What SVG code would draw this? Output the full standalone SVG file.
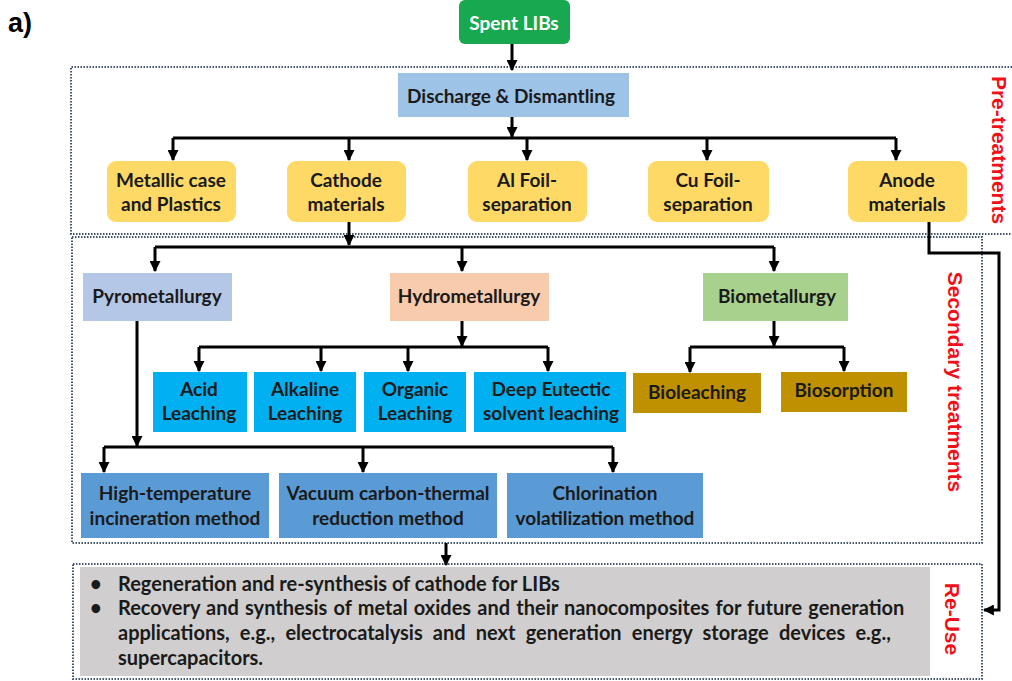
<svg xmlns="http://www.w3.org/2000/svg" width="1012" height="681" viewBox="0 0 1012 681">
<defs>
<marker id="ah" viewBox="0 0 10 10" refX="9" refY="5" markerWidth="11" markerHeight="11" markerUnits="userSpaceOnUse" orient="auto">
<path d="M0,0 L10,5 L0,10 z" fill="#000"/>
</marker>
<style>
.t{font-family:Lato,"Open Sans","Liberation Sans",sans-serif;font-weight:bold;font-size:19px;fill:#1a1a1a;text-anchor:middle}
.w{fill:#fff}
.lab{font-family:"Liberation Sans",Arial,sans-serif;font-weight:bold;font-size:21px;fill:#f01018;text-anchor:middle}
.dot{fill:none;stroke:#44546a;stroke-width:2;stroke-dasharray:1.5 1.5}
.c{fill:none;stroke:#000;stroke-width:3}
.ca{fill:none;stroke:#000;stroke-width:3;marker-end:url(#ah)}
.y{fill:#ffd966}
.lb{fill:#00b0f0}
.sb{fill:#5b9bd5}
.gd{fill:#bf9000}
.bt{font-family:Lato,"Open Sans","Liberation Sans",sans-serif;font-weight:bold;font-size:20px;fill:#1a1a1a}
</style>
</defs>
<rect width="1012" height="681" fill="#fff"/>
<text x="8" y="32" font-family="Liberation Sans,Arial,sans-serif" font-weight="bold" font-size="27" fill="#000">a)</text>

<g id="frames">
<path class="dot" d="M1012 67 H71 V234 H1012"/>
<rect class="dot" x="72" y="237" width="910" height="306"/>
<rect class="dot" x="73" y="564" width="909" height="115"/>
<text class="lab" x="0" y="0" font-size="20" transform="translate(992,150) rotate(90)">Pre-treatments</text>
<text class="lab" transform="translate(948,382) rotate(90)">Secondary treatments</text>
<text class="lab" transform="translate(945,619) rotate(90)">Re-Use</text>
</g>

<g id="connectors">
<path class="ca" d="M512 44 V70"/>
<path class="ca" d="M512 117 V137"/>
<path class="c" d="M173 138 H896"/>
<path class="ca" d="M173 138 V160"/>
<path class="ca" d="M349 138 V160"/>
<path class="ca" d="M527 138 V160"/>
<path class="ca" d="M707 138 V160"/>
<path class="ca" d="M896 138 V160"/>
<path class="ca" d="M349 222 V245"/>
<path class="c" d="M155 247 H774"/>
<path class="ca" d="M155 247 V271"/>
<path class="ca" d="M462 247 V271"/>
<path class="ca" d="M774 247 V271"/>
<path class="ca" d="M462 321 V346"/>
<path class="c" d="M199 347 H548"/>
<path class="ca" d="M199 347 V371"/>
<path class="ca" d="M321 347 V371"/>
<path class="ca" d="M408 347 V371"/>
<path class="ca" d="M548 347 V371"/>
<path class="ca" d="M774 321 V346"/>
<path class="c" d="M690 347 H844"/>
<path class="ca" d="M690 347 V372"/>
<path class="ca" d="M844 347 V371"/>
<path class="ca" d="M137 321 V446"/>
<path class="c" d="M104 447 H613"/>
<path class="ca" d="M104 447 V472"/>
<path class="ca" d="M363 447 V472"/>
<path class="ca" d="M613 447 V472"/>
<path class="ca" d="M446 543 V565"/>
<path class="ca" d="M929 222 V253 H999 V610 H984"/>
</g>

<g id="spent"><rect x="459" y="0" width="111" height="44" rx="6" fill="#18a84f"/><text class="t w" x="514" y="30" font-size="23">Spent LIBs</text></g>
<g id="discharge"><rect x="398" y="73" width="231" height="44" fill="#9dc3e6"/><text class="t" x="511" y="103" font-size="21.5">Discharge &amp; Dismantling</text></g>

<g id="metallic"><rect class="y" x="107" y="161" width="129" height="61" rx="9"/><text class="t" x="171" y="187">Metallic case</text><text class="t" x="171" y="211">and Plastics</text></g>
<g id="cathode"><rect class="y" x="287" y="161" width="119" height="61" rx="9"/><text class="t" x="346" y="187">Cathode</text><text class="t" x="346" y="211">materials</text></g>
<g id="alfoil"><rect class="y" x="468" y="161" width="119" height="61" rx="9"/><text class="t" x="527" y="187">Al Foil-</text><text class="t" x="527" y="211">separation</text></g>
<g id="cufoil"><rect class="y" x="648" y="161" width="121" height="61" rx="9"/><text class="t" x="708" y="187">Cu Foil-</text><text class="t" x="708" y="211">separation</text></g>
<g id="anode"><rect class="y" x="848" y="161" width="119" height="61" rx="9"/><text class="t" x="907" y="187">Anode</text><text class="t" x="907" y="211">materials</text></g>

<g id="pyro"><rect x="83" y="273" width="149" height="48" fill="#b4c7e7"/><text class="t" x="157" y="303">Pyrometallurgy</text></g>
<g id="hydro"><rect x="390" y="273" width="159" height="48" fill="#f8cbad"/><text class="t" x="469" y="303">Hydrometallurgy</text></g>
<g id="bio"><rect x="703" y="273" width="145" height="48" fill="#a9d18e"/><text class="t" x="777" y="303">Biometallurgy</text></g>

<g id="acid"><rect class="lb" x="153" y="372" width="94" height="60"/><text class="t" x="199" y="396">Acid</text><text class="t" x="199" y="420">Leaching</text></g>
<g id="alkaline"><rect class="lb" x="254" y="372" width="102" height="60"/><text class="t" x="305" y="396">Alkaline</text><text class="t" x="305" y="420">Leaching</text></g>
<g id="organic"><rect class="lb" x="364" y="372" width="102" height="60"/><text class="t" x="415" y="396">Organic</text><text class="t" x="415" y="420">Leaching</text></g>
<g id="deep"><rect class="lb" x="474" y="372" width="152" height="60"/><text class="t" x="551" y="396">Deep Eutectic</text><text class="t" x="551" y="420">solvent leaching</text></g>

<g id="bioleaching"><rect class="gd" x="633" y="373" width="128" height="40"/><text class="t" x="697" y="399">Bioleaching</text></g>
<g id="biosorption"><rect class="gd" x="781" y="372" width="126" height="40"/><text class="t" x="844" y="397">Biosorption</text></g>

<g id="hightemp"><rect class="sb" x="81" y="473" width="188" height="65"/><text class="t" x="175" y="500">High-temperature</text><text class="t" x="175" y="525">incineration method</text></g>
<g id="vacuum"><rect class="sb" x="279" y="473" width="218" height="65"/><text class="t" x="388" y="500">Vacuum carbon-thermal</text><text class="t" x="388" y="525">reduction method</text></g>
<g id="chlorination"><rect class="sb" x="507" y="473" width="196" height="65"/><text class="t" x="605" y="500">Chlorination</text><text class="t" x="605" y="525">volatilization method</text></g>

<g id="reuse">
<rect x="80" y="567" width="850" height="109" fill="#d0cece"/>
<text class="bt" x="90" y="591">•</text>
<text class="bt" x="118" y="591">Regeneration and re-synthesis of cathode for LIBs</text>
<text class="bt" x="90" y="615">•</text>
<text class="bt" x="118" y="615" word-spacing="1.3">Recovery and synthesis of metal oxides and their nanocomposites for future generation</text>
<text class="bt" x="118" y="640" word-spacing="5.3">applications, e.g., electrocatalysis and next generation energy storage devices e.g.,</text>
<text class="bt" x="118" y="665">supercapacitors.</text>
</g>
</svg>
